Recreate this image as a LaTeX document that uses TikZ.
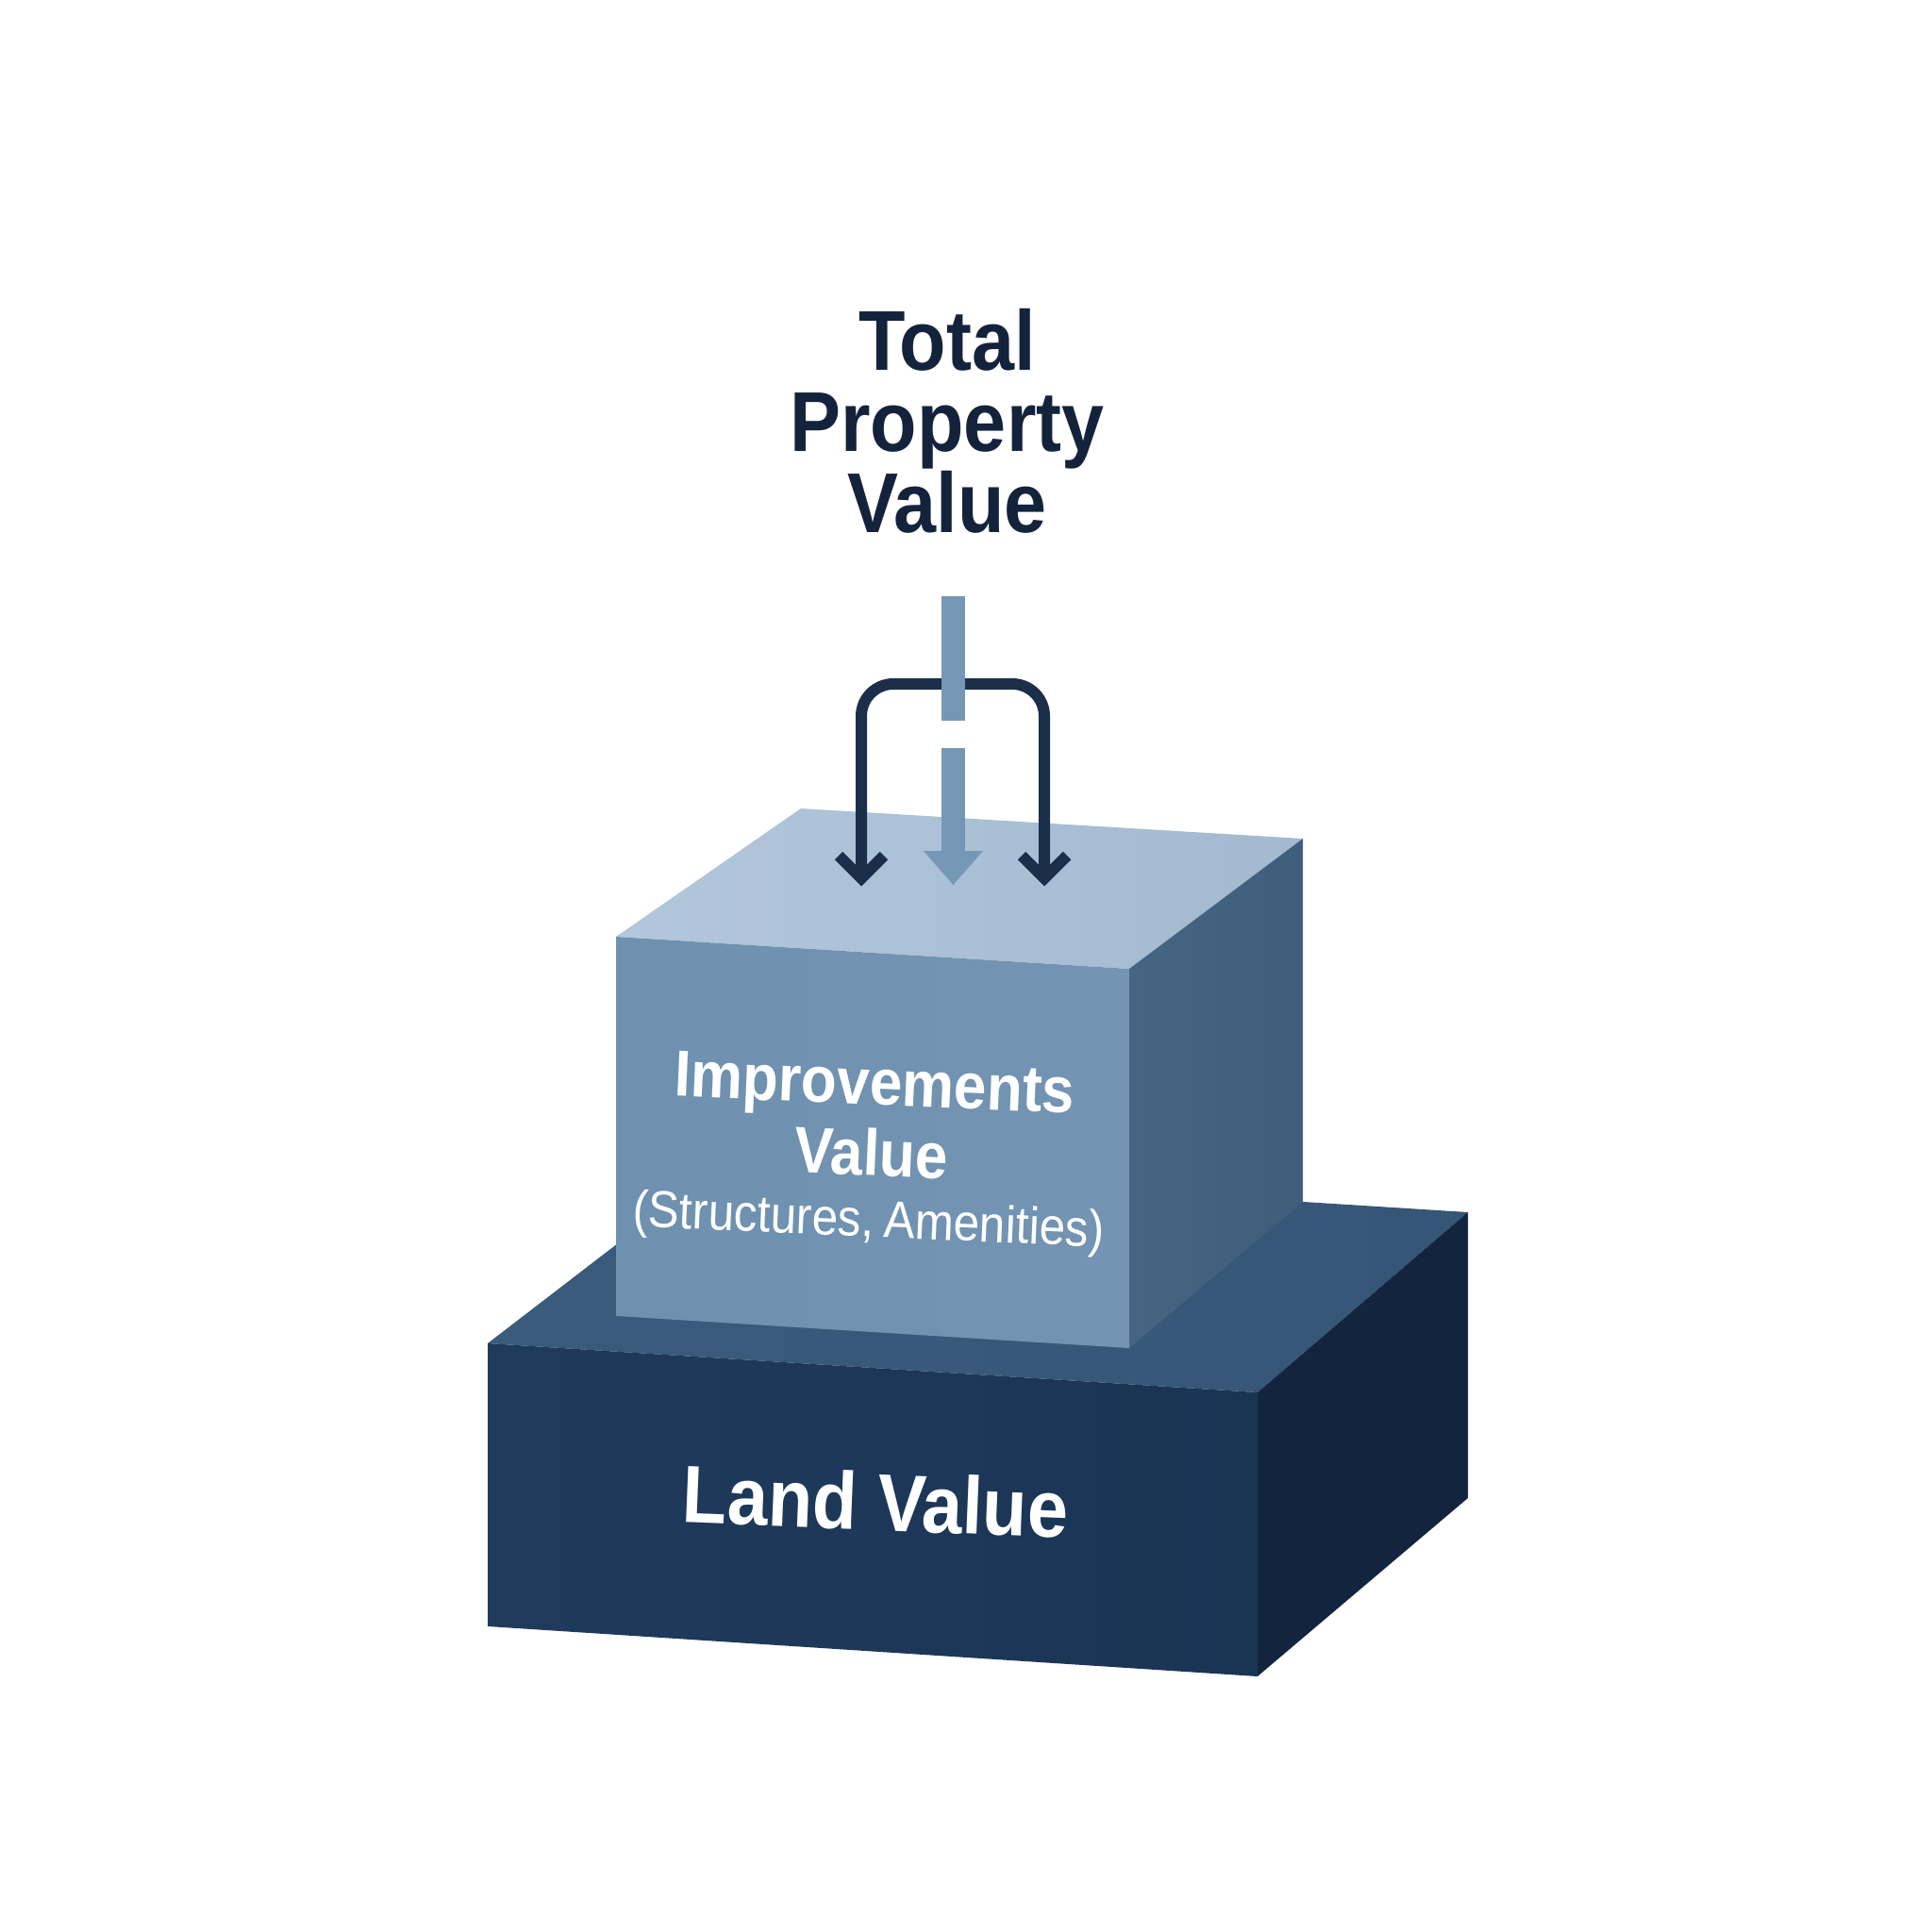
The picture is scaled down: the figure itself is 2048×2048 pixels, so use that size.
\documentclass[tikz,border=0pt]{standalone}
\usepackage{fontspec}
\setmainfont{Liberation Sans}[FakeStretch=0.9]
\usetikzlibrary{calc}
\definecolor{titlenavy}{HTML}{14233C}
\definecolor{arrowdark}{HTML}{1B2F4B}
\definecolor{barblue}{HTML}{7597B6}
\definecolor{utopA}{HTML}{B2C7DB}
\definecolor{utopB}{HTML}{A2B9D0}
\definecolor{ufrontA}{HTML}{6F91B0}
\definecolor{ufrontB}{HTML}{7394B2}
\definecolor{urightA}{HTML}{466582}
\definecolor{urightB}{HTML}{3F5E7B}
\definecolor{ltopA}{HTML}{3A5B7B}
\definecolor{ltopB}{HTML}{355676}
\definecolor{lfrontA}{HTML}{1F3B5C}
\definecolor{lfrontB}{HTML}{1A3454}
\definecolor{lright}{HTML}{12243E}
\tikzset{
  face/.style={draw=none},
  darkarrow/.style={draw=arrowdark, line width=12pt, rounded corners=34pt},
  chevron/.style={draw=arrowdark, line width=12pt, miter limit=10},
  lighttext/.style={text=white, inner sep=0pt},
}
\begin{document}
\begin{tikzpicture}[x=1pt,y=-1pt]
\useasboundingbox (0,0) rectangle (2048,2048);
\fill[white] (0,0) rectangle (2048,2048);

% ---------- lower box (Land) ----------
\coordinate (LFtl) at (517,1424);
\coordinate (LFtr) at (1333,1476);
\coordinate (LFbr) at (1333,1777);
\coordinate (LFbl) at (517,1724);
\coordinate (LBtr) at (1556,1285);
\coordinate (LBbr) at (1556,1588);
\coordinate (LBtl) at (763,1235);

\shade[face, left color=ltopA, right color=ltopB] (LFtl) -- (LFtr) -- (LBtr) -- (LBtl) -- cycle;
\fill[face, lright] (LFtr) -- (LBtr) -- (LBbr) -- (LFbr) -- cycle;
\shade[face, left color=lfrontA, right color=lfrontB] (LFtl) -- (LFtr) -- (LFbr) -- (LFbl) -- cycle;

% ---------- upper box (Improvements) ----------
\coordinate (UFtl) at (653,993);
\coordinate (UFtr) at (1197,1027);
\coordinate (UFbr) at (1197,1429);
\coordinate (UFbl) at (653,1395);
\coordinate (UBtl) at (849,857);
\coordinate (UBtr) at (1381,889);
\coordinate (UBbr) at (1381,1274);

\shade[face, left color=utopA, right color=utopB] (UFtl) -- (UFtr) -- (UBtr) -- (UBtl) -- cycle;
\shade[face, left color=urightA, right color=urightB] (UFtr) -- (UBtr) -- (UBbr) -- (UFbr) -- cycle;
\shade[face, left color=ufrontA, right color=ufrontB] (UFtl) -- (UFtr) -- (UFbr) -- (UFbl) -- cycle;

% ---------- texts ----------
\node[text=titlenavy, text width=700pt, align=center, inner sep=0pt,
      font=\fontsize{90}{86}\selectfont\bfseries] (title) at (1004,446)
  {Total\\Property\\Value};

\node[lighttext, text width=700pt, align=center, rotate=-2.5] (impr) at (924,1223)
  {{\fontsize{69}{75}\selectfont\bfseries Improvements\\Value\par}%
   {\fontsize{55}{65}\selectfont (Structures,\hspace{7pt} Amenities)\par}};

\node[lighttext, anchor=base, rotate=-2.3,
      font=\fontsize{86}{90}\selectfont\bfseries] (land) at (927,1622) {Land Value};

% ---------- arrows ----------
\coordinate (la) at (913,931);
\coordinate (ra) at (1107,931);
\coordinate (lt) at (913,725);
\coordinate (rt) at (1107,725);
\draw[darkarrow] (la) -- (lt) -- (rt) -- (ra);
\draw[chevron] ($(la)+(-24,-24)$) -- (la) -- ($(la)+(24,-24)$);
\draw[chevron] ($(ra)+(-24,-24)$) -- (ra) -- ($(ra)+(24,-24)$);

\coordinate (ba) at (998,632);
\coordinate (bb) at (1023,764);
\coordinate (bc) at (998,793);
\coordinate (bd) at (1023,903);
\coordinate (tipc) at (1010.5,938);
\fill[barblue] (ba) rectangle (bb);
\fill[barblue] (bc) rectangle (bd);
\fill[barblue] (979,902) -- (1042,902) -- (tipc) -- cycle;
\end{tikzpicture}
\end{document}
